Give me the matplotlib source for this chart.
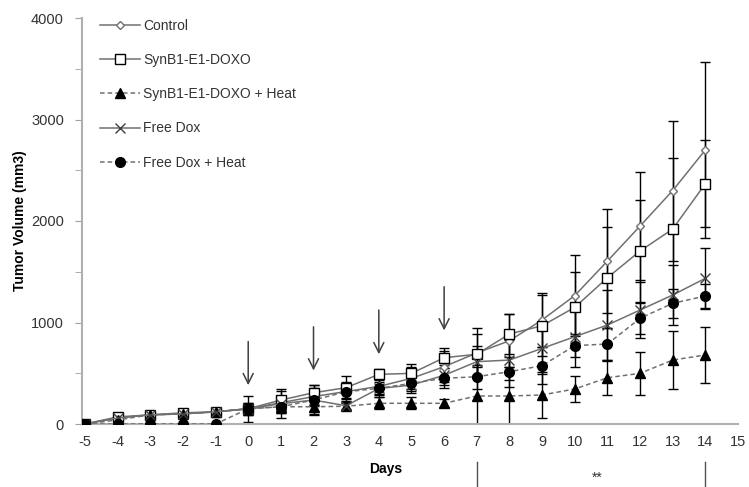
import numpy as np
import matplotlib
matplotlib.use('Agg')
import matplotlib.pyplot as plt

plt.rcParams['font.family'] = ['Liberation Sans', 'DejaVu Sans']
plt.rcParams['axes.unicode_minus'] = False

# Data
days = list(range(-5, 15))

control = [0, 60, 90, 100, 120, 150, 210, 270, 320, 370, 450, 565, 700, 820, 1025, 1265, 1605, 1950, 2300, 2700]
control_err = [0, 10, 15, 15, 20, 60, 70, 80, 90, 80, 110, 150, 250, 260, 270, 400, 510, 535, 690, 870]

synb1 = [0, 70, 90, 110, 120, 150, 236, 308, 358, 489, 499, 653, 687, 887, 968, 1149, 1441, 1704, 1921, 2367]
synb1_err = [0, 10, 15, 15, 20, 50, 90, 80, 110, 50, 90, 100, 200, 200, 300, 350, 500, 500, 700, 430]

synb1_heat = [0, 40, 90, 100, 120, 150, 170, 170, 175, 204, 204, 204, 276, 276, 286, 345, 456, 499, 630, 680]
synb1_heat_err = [0, 10, 15, 15, 20, 60, 60, 70, 30, 60, 60, 40, 290, 290, 230, 125, 170, 210, 290, 280]

free_dox = [0, 60, 90, 100, 120, 150, 200, 236, 180, 350, 384, 480, 614, 630, 745, 860, 975, 1123, 1271, 1435]
free_dox_err = [0, 10, 15, 15, 20, 130, 140, 150, 40, 80, 80, 100, 150, 200, 250, 300, 350, 280, 300, 300]

free_dox_heat = [0, 0, 0, 0, 0, 150, 170, 236, 318, 351, 401, 450, 466, 515, 575, 772, 788, 1041, 1189, 1261]
free_dox_heat_err = [0, 0, 0, 0, 0, 40, 60, 60, 60, 60, 80, 100, 120, 150, 180, 115, 160, 155, 145, 120]

arrow_days = [0, 2, 4, 6]
arrow_top = [840, 985, 1150, 1380]
arrow_tip = [355, 500, 660, 895]

LINE = '#707070'

fig = plt.figure(figsize=(7.49, 4.87), dpi=100)
ax = fig.add_axes([82/749, 1 - 424/487, (738 - 82)/749, (424 - 18)/487])

series = [
    (control, control_err, dict(marker='D', ms=4.5, mfc='white', mec='#707070', ls='-', label='Control')),
    (synb1, synb1_err, dict(marker='s', ms=6.5, mfc='white', mec='black', mew=1, ls='-', label='SynB1-E1-DOXO')),
    (synb1_heat, synb1_heat_err, dict(marker='^', ms=7, mfc='black', mec='black', ls=(0, (3, 2)), label='SynB1-E1-DOXO + Heat')),
    (free_dox, free_dox_err, dict(marker='x', ms=7, mec='#404040', mew=1, ls='-', label='Free Dox')),
    (free_dox_heat, free_dox_heat_err, dict(marker='o', ms=7, mfc='black', mec='black', ls=(0, (3, 2)), label='Free Dox + Heat')),
]

for y, err, style in series:
    ax.errorbar(days, y, yerr=err, fmt='none', ecolor='black', elinewidth=1, capsize=3.5, capthick=1, zorder=2)

handles = []
for y, err, style in series:
    h, = ax.plot(days, y, color=LINE, lw=1.1, zorder=3, **style)
    handles.append(h)

# treatment arrows
for d, t, b in zip(arrow_days, arrow_top, arrow_tip):
    ax.annotate('', xy=(d, b), xytext=(d, t),
                arrowprops=dict(arrowstyle='->', color='#404040', lw=1.1, mutation_scale=18))

ax.set_xlim(-5.09, 15)
ax.set_ylim(0, 4000)
ax.set_xticks(range(-5, 16))
ax.set_yticks(range(0, 4001, 1000))
ax.set_yticks(range(500, 4000, 1000), minor=True)
ax.tick_params(axis='x', length=0, labelsize=10.5, pad=8, colors='#333333')
ax.tick_params(axis='y', which='both', length=5, color='#a0a0a0', labelsize=10.5, pad=8, labelcolor='#333333')
for s in ['top', 'right']:
    ax.spines[s].set_visible(False)
for s in ['left', 'bottom']:
    ax.spines[s].set_color('#b0b0b0')
    ax.spines[s].set_linewidth(1.5)

ax.set_ylabel('Tumor Volume (mm3)', fontsize=10, fontweight='bold', labelpad=3)

fig.text(386/749, 1 - 469/487, 'Days', fontsize=10, fontweight='bold', ha='center', va='center')
fig.text(597/749, 1 - 478/487, '**', fontsize=10, ha='center', va='center', color='#333333')
for xd in [7, 14]:
    xp = ax.transData.transform((xd, 0))[0] / fig.bbox.width
    fig.add_artist(plt.Line2D([xp, xp], [0, 1 - 462/487], color='#505050', lw=1))

leg = ax.legend(handles=handles, loc='upper left', bbox_to_anchor=(100/749, 1 - 19/487),
                bbox_transform=fig.transFigure, frameon=False, fontsize=10,
                handlelength=2.9, handletextpad=0.2, labelspacing=1.45, borderpad=0,
                borderaxespad=0, numpoints=1)
for t in leg.get_texts():
    t.set_color('#333333')

fig.savefig('out.png', dpi=100)
